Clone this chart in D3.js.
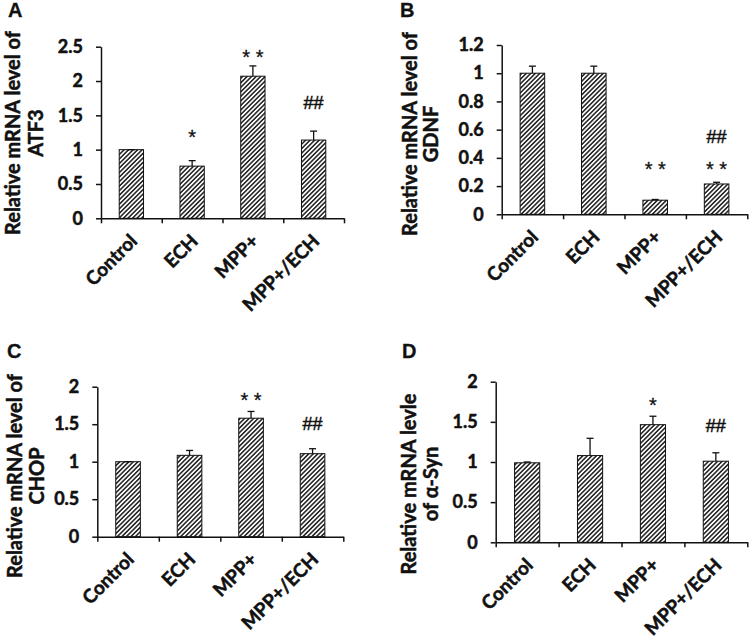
<!DOCTYPE html>
<html>
<head>
<meta charset="utf-8">
<script src="https://cdn.jsdelivr.net/npm/d3@7"></script>
<style>
    body { margin: 0; background: #fff; }
</style>
</head>
<body>
<div id="app"></div>
<script>
// groups on the x axis (same for all four panels)
var categories = ["Control", "ECH", "MPP+", "MPP+/ECH"];

// A - ATF3
var atf3Means = [1.0, 0.76, 2.07, 1.14];
var atf3Errors = [0, 0.08, 0.15, 0.13];
var atf3Ticks = [0, 0.5, 1, 1.5, 2, 2.5];
var atf3Stars = ["", "*", "* *", ""];
var atf3StarLevels = [0, 1.26, 2.425, 0];
var atf3Hashes = ["", "", "", "##"];
var atf3HashLevels = [0, 0, 0, 1.68];

// B - GDNF
var gdnfMeans = [1.0, 1.0, 0.1, 0.215];
var gdnfErrors = [0.05, 0.05, 0.005, 0.012];
var gdnfTicks = [0, 0.2, 0.4, 0.6, 0.8, 1, 1.2];
var gdnfStars = ["", "", "* *", "* *"];
var gdnfStarLevels = [0, 0, 0.354, 0.354];
var gdnfHashes = ["", "", "", "##"];
var gdnfHashLevels = [0, 0, 0, 0.55];

// C - CHOP
var chopMeans = [1.0, 1.085, 1.58, 1.107];
var chopErrors = [0, 0.065, 0.09, 0.066];
var chopTicks = [0, 0.5, 1, 1.5, 2];
var chopStars = ["", "", "* *", ""];
var chopStarLevels = [0, 0, 1.89, 0];
var chopHashes = ["", "", "", "##"];
var chopHashLevels = [0, 0, 0, 1.51];

// D - alpha-Syn
var synMeans = [0.99, 1.08, 1.465, 1.01];
var synErrors = [0.01, 0.215, 0.105, 0.105];
var synTicks = [0, 0.5, 1, 1.5, 2];
var synStars = ["", "", "*", ""];
var synStarLevels = [0, 0, 1.77, 0];
var synHashes = ["", "", "", "##"];
var synHashLevels = [0, 0, 0, 1.46];

var svg = d3.select("#app")
    .append("svg")
    .attr("width", 750)
    .attr("height", 644)
    .style("background", "#fff");

// diagonal hatching used to fill every bar
svg.append("defs")
    .append("pattern")
    .attr("id", "hatch")
    .attr("patternUnits", "userSpaceOnUse")
    .attr("width", 3.2)
    .attr("height", 3.2)
    .attr("patternTransform", "rotate(45)")
    .call(function (p) {
        p.append("rect").attr("width", 3.2).attr("height", 3.2).attr("fill", "#fff");
        p.append("line")
            .attr("x1", 1.6).attr("y1", 0)
            .attr("x2", 1.6).attr("y2", 3.2)
            .attr("stroke", "#2a2a2a")
            .attr("stroke-width", 1.6);
    });

// the scanned figure has heavy text, a thin outline helps
function heavy(sel, w) {
    sel.attr("stroke", "#111").attr("stroke-width", w).attr("fill", "#111");
}

function drawPanel(o) {
    var g = svg.append("g");

    var x = d3.scaleBand()
        .domain(categories)
        .range([o.left, o.right])
        .paddingInner(0.6)
        .paddingOuter(0.3);

    var y = d3.scaleLinear()
        .domain([0, o.ticks[o.ticks.length - 1]])
        .range([o.bottom, o.top]);

    // panel letter
    g.append("text")
        .attr("x", o.letterX)
        .attr("y", o.letterY)
        .attr("font-family", "Liberation Sans, Arial, sans-serif")
        .attr("font-weight", "bold")
        .attr("font-size", 20)
        .text(o.letter)
        .call(heavy, 0.3);

    // bars
    g.selectAll(".bar")
        .data(o.means)
        .enter()
        .append("rect")
        .attr("class", "bar")
        .attr("x", function (d, i) { return x(categories[i]); })
        .attr("width", x.bandwidth())
        .attr("y", function (d) { return y(d); })
        .attr("height", function (d) { return y(0) - y(d); })
        .attr("fill", "url(#hatch)")
        .attr("stroke", "#111")
        .attr("stroke-width", 1);

    // error bars, upper half only
    var errs = g.selectAll(".err")
        .data(o.means)
        .enter()
        .append("g")
        .attr("class", "err")
        .attr("transform", function (d, i) { return "translate(" + (x(categories[i]) + x.bandwidth() / 2) + ",0)"; });
    errs.append("line")
        .attr("y1", function (d) { return y(d); })
        .attr("y2", function (d, i) { return y(d + o.errors[i]); })
        .attr("stroke", "#111")
        .attr("stroke-width", 1.3);
    errs.append("line")
        .attr("x1", -3.5).attr("x2", 3.5)
        .attr("y1", function (d, i) { return y(d + o.errors[i]); })
        .attr("y2", function (d, i) { return y(d + o.errors[i]); })
        .attr("stroke", "#111")
        .attr("stroke-width", 1.3);

    // significance marks
    g.selectAll(".star")
        .data(o.stars)
        .enter()
        .append("text")
        .attr("x", function (d, i) { return x(categories[i]) + x.bandwidth() / 2; })
        .attr("y", function (d, i) { return y(o.starLevels[i]); })
        .attr("dy", "0.6em")
        .attr("text-anchor", "middle")
        .attr("font-family", "Liberation Sans, Arial, sans-serif")
        .attr("font-size", 20)
        .text(function (d) { return d; })
        .call(heavy, 0.3);

    g.selectAll(".hash")
        .data(o.hashes)
        .enter()
        .append("text")
        .attr("x", function (d, i) { return x(categories[i]) + x.bandwidth() / 2; })
        .attr("y", function (d, i) { return y(o.hashLevels[i]); })
        .attr("dy", "0.36em")
        .attr("text-anchor", "middle")
        .attr("font-family", "Liberation Sans, Arial, sans-serif")
        .attr("font-size", 18)
        .text(function (d) { return d; })
        .call(heavy, 0.5);

    // y axis
    var yAxis = d3.axisLeft(y)
        .tickValues(o.ticks)
        .tickFormat(function (d) { return String(d); })
        .tickSize(5)
        .tickSizeOuter(0)
        .tickPadding(13);
    var ya = g.append("g")
        .attr("transform", "translate(" + o.left + ",0)")
        .call(yAxis);
    ya.selectAll("text")
        .attr("font-family", "Lato, sans-serif")
        .attr("font-weight", "bold")
        .attr("font-size", 18)
        .call(heavy, 0.5);

    // x axis: ticks at the group borders
    var xb = d3.scaleLinear().domain([0, categories.length]).range([o.left, o.right]);
    var xAxis = d3.axisBottom(xb)
        .tickValues(d3.range(0, categories.length + 1))
        .tickFormat("")
        .tickSize(5)
        .tickSizeOuter(0);
    g.append("g")
        .attr("transform", "translate(0," + o.bottom + ")")
        .call(xAxis);

    g.selectAll(".domain, .tick line")
        .attr("stroke", "#111")
        .attr("stroke-width", 1.5);

    // category labels, slanted
    g.selectAll(".cat")
        .data(categories)
        .enter()
        .append("text")
        .attr("class", "cat")
        .attr("text-anchor", "end")
        .attr("transform", function (d) {
            return "translate(" + (x(d) + x.bandwidth() / 2 + 7) + "," + (o.bottom + 24) + ") rotate(-45)";
        })
        .attr("font-family", "Lato, sans-serif")
        .attr("font-weight", "bold")
        .attr("font-size", 19)
        .text(function (d) { return d; })
        .call(heavy, 0.5);

    // y title, two lines
    g.selectAll(".ytitle")
        .data(o.title)
        .enter()
        .append("text")
        .attr("text-anchor", "middle")
        .attr("transform", function (d, i) {
            return "translate(" + (o.left + o.titleX[i]) + "," + o.titleY + ") rotate(-90)";
        })
        .attr("font-family", "Lato, sans-serif")
        .attr("font-weight", "bold")
        .attr("font-size", 20)
        .text(function (d) { return d; })
        .call(heavy, 0.5);
}

drawPanel({
    letter: "A", letterX: 8, letterY: 17,
    left: 101, right: 344, bottom: 218.3, top: 46.7,
    ticks: atf3Ticks, means: atf3Means, errors: atf3Errors,
    stars: atf3Stars, starLevels: atf3StarLevels, hashes: atf3Hashes, hashLevels: atf3HashLevels,
    title: ["Relative mRNA level of", "ATF3"], titleX: [-81, -58], titleY: 133
});

drawPanel({
    letter: "B", letterX: 400, letterY: 17,
    left: 501.7, right: 747.3, bottom: 214.3, top: 45,
    ticks: gdnfTicks, means: gdnfMeans, errors: gdnfErrors,
    stars: gdnfStars, starLevels: gdnfStarLevels, hashes: gdnfHashes, hashLevels: gdnfHashLevels,
    title: ["Relative mRNA level of", "GDNF"], titleX: [-85, -64], titleY: 134
});

drawPanel({
    letter: "C", letterX: 7, letterY: 358,
    left: 97.3, right: 343.3, bottom: 536.7, top: 386.7,
    ticks: chopTicks, means: chopMeans, errors: chopErrors,
    stars: chopStars, starLevels: chopStarLevels, hashes: chopHashes, hashLevels: chopHashLevels,
    title: ["Relative mRNA level of", "CHOP"], titleX: [-75, -53], titleY: 476
});

drawPanel({
    letter: "D", letterX: 402, letterY: 358,
    left: 495.7, right: 747.3, bottom: 542.3, top: 381.7,
    ticks: synTicks, means: synMeans, errors: synErrors,
    stars: synStars, starLevels: synStarLevels, hashes: synHashes, hashLevels: synHashLevels,
    title: ["Relative mRNA levle", "of α-Syn"], titleX: [-80, -58], titleY: 484
});
</script>
</body>
</html>
